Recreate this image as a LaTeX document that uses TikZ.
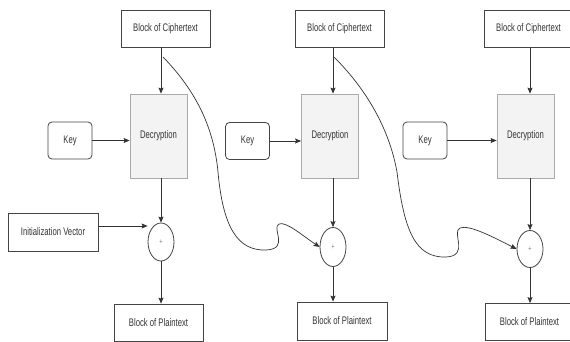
\documentclass[tikz,border=0pt]{standalone}
\usepackage{fontspec}
\setmainfont{Liberation Sans}[FakeStretch=0.7]
\usetikzlibrary{shapes.geometric,arrows.meta}
\definecolor{ink}{HTML}{333333}
\definecolor{edge}{HTML}{444444}
\definecolor{paleedge}{HTML}{AAAAAA}
\definecolor{palefill}{HTML}{F3F3F3}
\tikzset{
  txt/.style={font=\fontsize{11}{13}\selectfont, text=ink, inner sep=0pt},
  blockbox/.style={txt, draw=edge, line width=0.8pt, fill=white, minimum width=89pt, minimum height=37pt},
  decbox/.style={txt, draw=paleedge, line width=0.8pt, fill=palefill, minimum width=57pt, minimum height=84pt},
  keybox/.style={txt, draw=edge, line width=0.8pt, fill=white, rounded corners=4pt, minimum width=44pt, minimum height=37pt},
  xorbox/.style={ellipse, draw=edge, line width=0.8pt, fill=white, minimum width=26pt, minimum height=38pt, inner sep=0pt,
    font=\fontsize{8}{8}\selectfont, text=gray},
  conn/.style={draw=ink, line width=0.7pt, -{Stealth[length=6pt,width=5pt,inset=1pt]}},
  feed/.style={draw=ink, line width=0.7pt, -{Stealth[length=6pt,width=5pt,inset=1pt]}},
}
\begin{document}
\begin{tikzpicture}[x=1pt, y=-1pt]
  \useasboundingbox (0,0) rectangle (570,342);
  \clip (0,0) rectangle (570,342);

  % first block: decryption with the initialization vector
  \node[blockbox] (c1) at (165.5,28.5) {Block of Ciphertext};
  \node[decbox]   (d1) at (158.5,136) {Decryption};
  \node[keybox]   (k1) at (70,140.5) {Key};
  \node[xorbox]   (x1) at (161,242) {+};
  \node[blockbox, minimum width=90pt, minimum height=38pt] (iv) at (53,232) {Initialization Vector};
  \node[blockbox] (p1) at (158.5,322.5) {Block of Plaintext};

  % second block
  \node[blockbox] (c2) at (339.5,28.5) {Block of Ciphertext};
  \node[decbox]   (d2) at (330,136) {Decryption};
  \node[keybox]   (k2) at (247.5,141) {Key};
  \node[xorbox, minimum height=39pt] (x2) at (333,247) {+};
  \node[blockbox, minimum width=90pt, minimum height=38pt] (p2) at (342,321) {Block of Plaintext};

  % third block
  \node[blockbox] (c3) at (528.5,28.5) {Block of Ciphertext};
  \node[decbox]   (d3) at (525.5,136) {Decryption};
  \node[keybox]   (k3) at (425,140.5) {Key};
  \node[xorbox, minimum height=37pt] (x3) at (530,249) {+};
  \node[blockbox] (p3) at (529.5,322) {Block of Plaintext};

  % vertical data path of each block
  \foreach \i in {1,2,3} {
    \draw[conn] (x\i |- c\i.south) -- (x\i |- d\i.north);
    \draw[conn] (x\i |- d\i.south) -- (x\i.north);
    \draw[conn] (x\i.south) -- (x\i |- p\i.north);
    \draw[conn] (k\i.east) -- (k\i.east -| d\i.west);
  }
  \draw[conn] ([yshift=6pt]iv.east) -- ([yshift=6pt]iv.east -| x1.west);

  % ciphertext fed forward into the next XOR
  \coordinate (s1) at (163,57);
  \coordinate (s2) at (334,57);
  \draw[feed] (s1) .. controls (198,93) and (214,130) .. (218,172)
    .. controls (223,228) and (238,251) .. (266,250)
    .. controls (290,249) and (271,228) .. (279,224)
    .. controls (286,221) and (303,236) .. (x2.west);
  \draw[feed] (s2) .. controls (370,93) and (390,133) .. (397,172)
    .. controls (404,230) and (415,258) .. (446,257)
    .. controls (470,256) and (451,232) .. (460,228)
    .. controls (469,224) and (497,239) .. (x3.west);
\end{tikzpicture}
\end{document}
